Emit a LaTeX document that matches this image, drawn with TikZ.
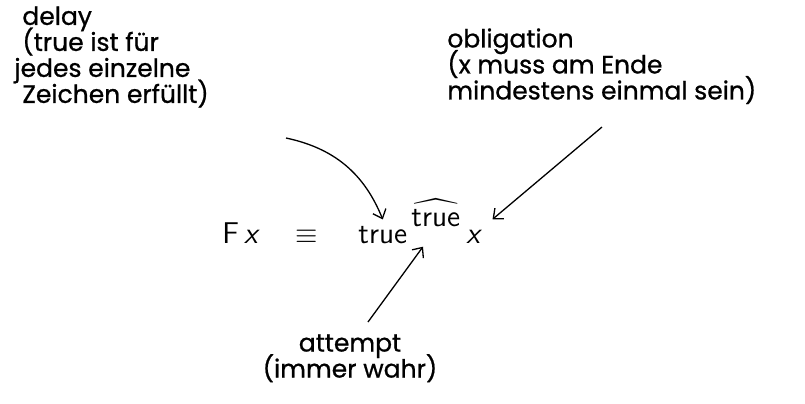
\documentclass[tikz,border=0pt]{standalone}
\usepackage{fontspec}
\usepackage{amssymb}
\newfontfamily\hand[FakeBold=0.8]{Poppins}
\newcommand\handtight{\hand\fontsize{12.5}{13}\selectfont\lineskiplimit=-8pt\relax}
\usetikzlibrary{arrows.meta,positioning}
\tikzset{
  note/.style={font=\handtight,inner sep=0pt},
  frm/.style={font=\sffamily\fontsize{15}{18}\selectfont,inner sep=0pt},
  arr/.style={-{Straight Barb[length=4pt,width=7pt]},line width=0.65pt,color=black}}
\begin{document}
\begin{tikzpicture}[x=0.5pt,y=-0.5pt]
\useasboundingbox (0,0) rectangle (805,403);
% formula
\node[frm,anchor=base west] (fx) at (222,243) {F\,\textsl{x}};
\node[frm,anchor=base] (eq) at (307,243) {$\equiv$};
\node[frm,anchor=base west] (tru) at (358,243) {true};
\node[frm,anchor=base west] (hat) at (411,226) {$\widehat{\hbox{\sffamily\fontsize{15}{18}\selectfont true}}$};
\node[frm,anchor=base west] (xv) at (466,243) {\textsl{x}};
% notes
\node[note,anchor=north west,align=left] (delay) at (14,6) {\hspace*{4pt}delay\\\hspace*{4pt}(true ist für\\jedes einzelne\\\hspace*{4pt}Zeichen erfüllt)};
\node[note,anchor=north west,align=left] (obl) at (447,28) {obligation\\(x muss am Ende\\mindestens einmal sein)};
\node[note,anchor=north,align=center] (att) at (350,334) {attempt\\(immer wahr)};
\coordinate (dtail) at (286,138);
\coordinate (otail) at (602,127);
\draw[arr] (dtail) to[out=-12,in=112] ([yshift=3pt]tru.north);
\draw[arr] (otail) -- ([shift={(5pt,5pt)}]xv.north east);
\draw[arr] ([shift={(9pt,6pt)}]att.north) -- ([shift={(6pt,-10pt)}]hat.south west);
\end{tikzpicture}
\end{document}
